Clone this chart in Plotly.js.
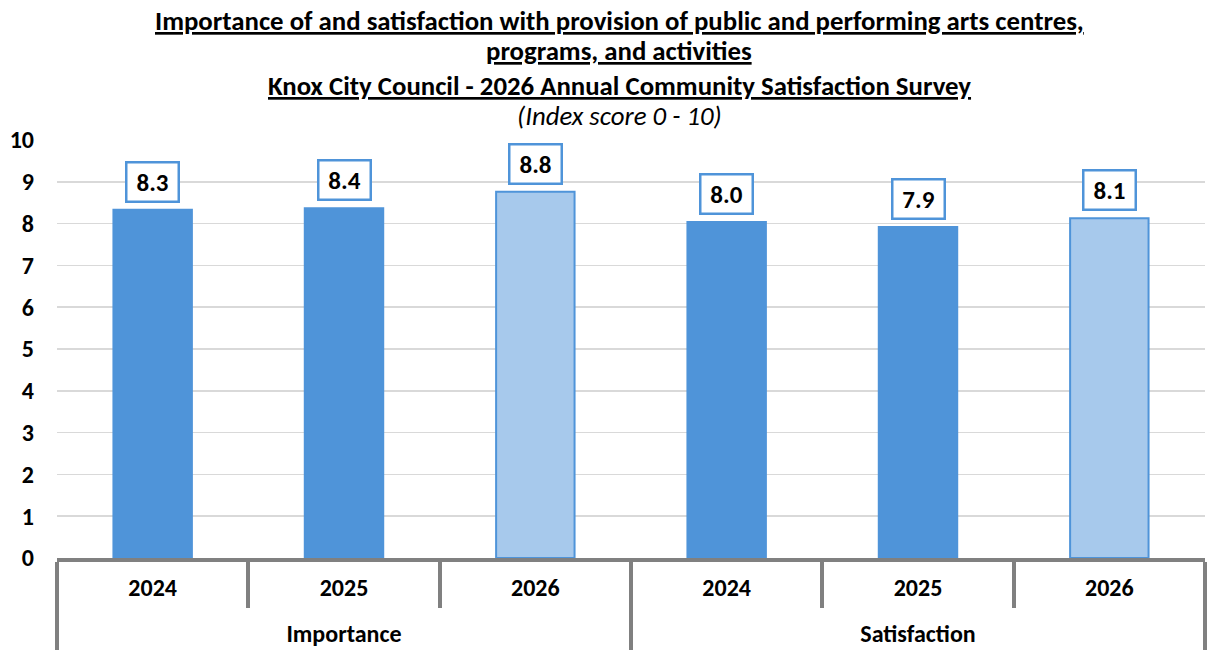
<!DOCTYPE html>
<html><head><meta charset="utf-8">
<script src="https://cdn.plot.ly/plotly-3.0.1.min.js"></script>
<style>html,body{margin:0;padding:0;background:#fff}#chart{width:1208px;height:650px}</style>
</head><body><div id="chart"></div>
<script>
const groups = ["Importance","Importance","Importance","Satisfaction","Satisfaction","Satisfaction"];
const years = ["2024","2025","2026","2024","2025","2026"];
const values = [8.33, 8.37, 8.76, 8.04, 7.92, 8.13];
const labels = ["8.3","8.4","8.8","8.0","7.9","8.1"];
const isCurrent = [false,false,true,false,false,true];

const FONT = "Carlito, Calibri, 'Liberation Sans Narrow', 'Open Sans', sans-serif";
const dark = "#4f94d9", light = "#a7c9ec";

const big = s => "<span style='font-size:24px'>" + s + "</span>";
// spacer line under the year labels pushes the group labels lower
const yearText = years.map(y => big(y) + "<br> ");
const groupText = groups.map(g => big(g));

const trace = {
  type: "bar",
  x: [groupText, yearText],
  y: values,
  marker: {
    color: isCurrent.map(c => c ? light : dark),
    line: {color: dark, width: 2}
  },
  hoverinfo: "skip"
};

const annotations = values.map((v, i) => ({
  x: i, xref: "x", y: v, yref: "y",
  text: "<b>" + labels[i] + "</b>",
  showarrow: false, yanchor: "bottom", yshift: 7,
  font: {family: FONT, size: 25, color: "#000"},
  bgcolor: "#fff", bordercolor: dark, borderwidth: 2.5, borderpad: 3,
  width: 44
}));

const titleX = (619 - 57) / 1148;
const titleLines = [
  {t: "<b><u>Importance of and satisfaction with provision of public and performing arts centres,</u></b>", py: 21},
  {t: "<b><u>programs, and activities</u></b>", py: 51},
  {t: "<b><u>Knox City Council - 2026 Annual Community Satisfaction Survey</u></b>", py: 85},
  {t: "<i>(Index score 0 - 10)</i>", py: 115}
];
titleLines.forEach(l => annotations.push({
  text: l.t, xref: "paper", yref: "paper", x: titleX, xanchor: "center",
  y: (558 - l.py) / 418, yanchor: "middle", showarrow: false,
  font: {family: FONT, size: 26.8, color: "#000"}
}));

const layout = {
  width: 1208, height: 650,
  margin: {l: 57, r: 3, t: 140, b: 92},
  paper_bgcolor: "#fff", plot_bgcolor: "#fff",
  showlegend: false,
  bargap: 0.59,
  font: {family: FONT, color: "#000"},
  xaxis: {
    type: "multicategory",
    tickfont: {family: FONT, size: 20, color: "#000", weight: "bold"},
    ticklabelstandoff: 10,
    showline: true, linecolor: "#808080", linewidth: 4,
    ticks: "outside", ticklen: 46, tickwidth: 4, tickcolor: "#808080",
    showdividers: true, dividercolor: "#808080", dividerwidth: 4,
    showgrid: false
  },
  yaxis: {
    range: [0, 10], dtick: 1, tickmode: "linear",
    showgrid: true, gridcolor: "#d9d9d9", gridwidth: 1.5,
    zeroline: false, showline: false,
    tickfont: {family: FONT, size: 24, color: "#000", weight: "bold"},
    ticklabelstandoff: 22
  },
  annotations: annotations
};

Plotly.newPlot("chart", [trace], layout, {displayModeBar: false, staticPlot: true});
</script>
</body></html>
